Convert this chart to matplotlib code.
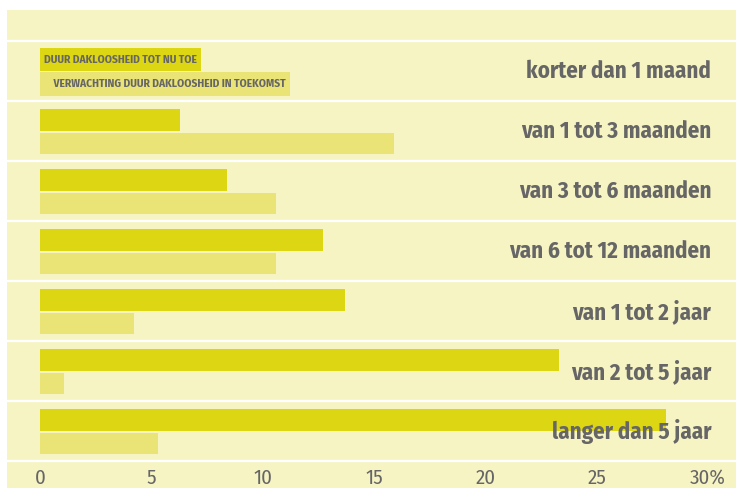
import matplotlib
matplotlib.use("Agg")
import matplotlib.pyplot as plt
import numpy as np

# data (percent)
categories = ["korter dan 1 maand", "van 1 tot 3 maanden", "van 3 tot 6 maanden",
              "van 6 tot 12 maanden", "van 1 tot 2 jaar", "van 2 tot 5 jaar",
              "langer dan 5 jaar"]
tot_nu_toe = [0, 6.3, 8.4, 12.7, 13.7, 23.3, 28.1]
verwachting = [0, 15.9, 10.6, 10.6, 4.2, 1.1, 5.3]
series_names = ["DUUR DAKLOOSHEID TOT NU TOE", "VERWACHTING DUUR DAKLOOSHEID IN TOEKOMST"]
xticks = [0, 5, 10, 15, 20, 25, 30]
xtick_labels = ["0", "5", "10", "15", "20", "25", "30%"]

BG = "#f7f4c4"
DARK = "#ddd612"
LIGHT = "#eae476"
GREY = "#666666"
FONT = ["Fira Sans Condensed", "Roboto Condensed", "DejaVu Sans"]

plt.rcParams["font.family"] = FONT

fig = plt.figure(figsize=(7.36, 4.88), dpi=100)
fig.patch.set_facecolor("white")
ax = fig.add_axes([7 / 736, 0, 729 / 736, 478 / 488])
ax.set_facecolor(BG)

y = np.arange(len(categories))
ax.barh(y - 0.183, tot_nu_toe, height=0.367, color=DARK, zorder=2)
ax.barh(y + 0.208, verwachting, height=0.35, color=LIGHT, zorder=2)

# white row separators
for b in np.arange(-0.5, len(categories) + 0.5, 1):
    ax.axhline(b, color="white", lw=1.6, zorder=1)

# category labels at right
for i, c in enumerate(categories):
    ax.text(30.15, i + 0.01, c, ha="right", va="center", fontsize=16.5, fontweight="bold",
            color=GREY, zorder=3)

# x tick labels at the bottom band
for t, l in zip(xticks, xtick_labels):
    ax.text(t, 6.78, l, ha="center", va="center", fontsize=15, color=GREY)

# legend boxes in first row
ax.text(0.18, -0.19, series_names[0], ha="left", va="center", fontsize=8.2,
        fontweight="bold", color=GREY, zorder=4,
        bbox=dict(boxstyle="square,pad=0.36", fc=DARK, ec="none", mutation_aspect=1.55))
ax.text(0.18, 0.215, "    " + series_names[1], ha="left", va="center", fontsize=8.2,
        fontweight="bold", color=GREY, zorder=4,
        bbox=dict(boxstyle="square,pad=0.36", fc=LIGHT, ec="none", mutation_aspect=1.55))

ax.set_xlim(-1.482, 31.257)
ax.set_ylim(6.95, -1.017)
ax.set_xticks([])
ax.set_yticks([])
for s in ax.spines.values():
    s.set_visible(False)

fig.savefig("out.png", dpi=100, facecolor="white")
